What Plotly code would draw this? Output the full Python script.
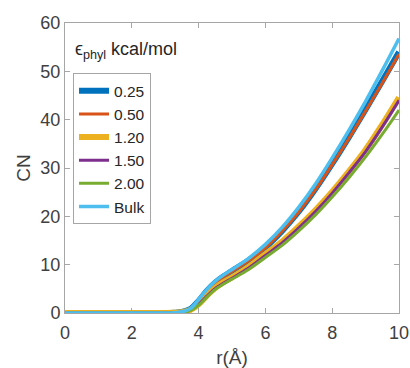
import plotly.graph_objects as go

r = [0.0, 0.5, 1.0, 1.5, 2.0, 2.5, 3.0, 3.25, 3.5, 3.75, 4.0, 4.25, 4.5, 4.75, 5.0, 5.5, 6.0, 6.5, 7.0, 7.5, 8.0, 8.5, 9.0, 9.5, 10.0]

cn_025 = [0, 0, 0, 0, 0, 0, 0, 0.05, 0.2, 0.8, 2.5, 4.6, 6.3, 7.6, 8.7, 10.9, 13.6, 17.0, 21.0, 25.7, 30.9, 36.4, 42.1, 48.0, 54.0]
cn_050 = [0, 0, 0, 0, 0, 0, 0, 0.05, 0.2, 0.8, 2.4, 4.5, 6.2, 7.5, 8.6, 10.8, 13.5, 16.9, 20.9, 25.5, 30.7, 36.1, 41.8, 47.6, 53.6]
cn_120 = [0, 0, 0, 0, 0, 0, 0, 0.04, 0.15, 0.6, 1.8, 3.6, 5.2, 6.4, 7.4, 9.6, 12.2, 14.8, 17.9, 21.3, 25.1, 29.3, 33.8, 39.0, 44.6]
cn_150 = [0, 0, 0, 0, 0, 0, 0, 0.04, 0.15, 0.6, 1.8, 3.5, 5.1, 6.2, 7.2, 9.3, 11.9, 14.5, 17.6, 21.0, 24.8, 29.0, 33.4, 38.5, 44.0]
cn_200 = [0, 0, 0, 0, 0, 0, 0, 0.03, 0.12, 0.5, 1.6, 3.3, 4.9, 6.0, 7.0, 9.0, 11.5, 14.0, 17.0, 20.3, 24.0, 28.0, 32.3, 37.0, 42.0]
cn_bulk = [0, 0, 0, 0, 0, 0, 0, 0.05, 0.25, 0.9, 2.8, 4.9, 6.6, 7.9, 9.0, 11.3, 14.2, 17.7, 21.9, 26.7, 32.1, 37.8, 43.8, 50.2, 56.8]

series = [
    ("0.25", cn_025, "#0072BD", 6),
    ("0.50", cn_050, "#D95319", 3),
    ("1.20", cn_120, "#EDB120", 6),
    ("1.50", cn_150, "#7E2F8E", 3),
    ("2.00", cn_200, "#77AC30", 3),
    ("Bulk", cn_bulk, "#4DBEEE", 3.5),
]

fig = go.Figure()
for name, y, color, w in series:
    fig.add_trace(go.Scatter(x=r, y=y, mode="lines", name=name, cliponaxis=False,
                             line=dict(color=color, width=w, shape="spline")))

font_family = "Liberation Sans, Arial, sans-serif"
axis_common = dict(
    showgrid=False, zeroline=False, showline=True, linecolor="#a6a6a6", linewidth=1,
    mirror="ticks", ticks="inside", ticklen=5, tickcolor="#a6a6a6", automargin=False,
    tickfont=dict(size=18, color="#404040", family=font_family),
)

fig.update_layout(
    width=410, height=368,
    margin=dict(l=65, r=10.5, t=22.7, b=54.7, autoexpand=False),
    paper_bgcolor="white", plot_bgcolor="white",
    font=dict(family=font_family, color="#404040"),
    xaxis=dict(range=[0, 10], tickvals=[0, 2, 4, 6, 8, 10], ticklabelstandoff=3,
               title=dict(text="r(Å)", font=dict(size=19, color="#404040"), standoff=9),
               **axis_common),
    yaxis=dict(range=[0, 60], tickvals=[0, 10, 20, 30, 40, 50, 60],
               title=dict(text="CN", font=dict(size=19, color="#404040"), standoff=4),
               **axis_common),
    legend=dict(x=0.024, y=(313.3 - 73) / 290.6, xanchor="left", yanchor="top",
                bordercolor="#a6a6a6", borderwidth=1, bgcolor="white",
                font=dict(size=15.5, color="#262626", family=font_family),
                itemwidth=30, tracegroupgap=0),
    showlegend=True,
    annotations=[dict(
        text="ϵ<sub>phyl</sub> kcal/mol", xref="paper", yref="paper",
        x=0.024, y=(313.3 - 50) / 290.6, xanchor="left", yanchor="middle",
        showarrow=False, font=dict(size=18, color="#262626", family=font_family))],
)

fig.write_html("out.html")
